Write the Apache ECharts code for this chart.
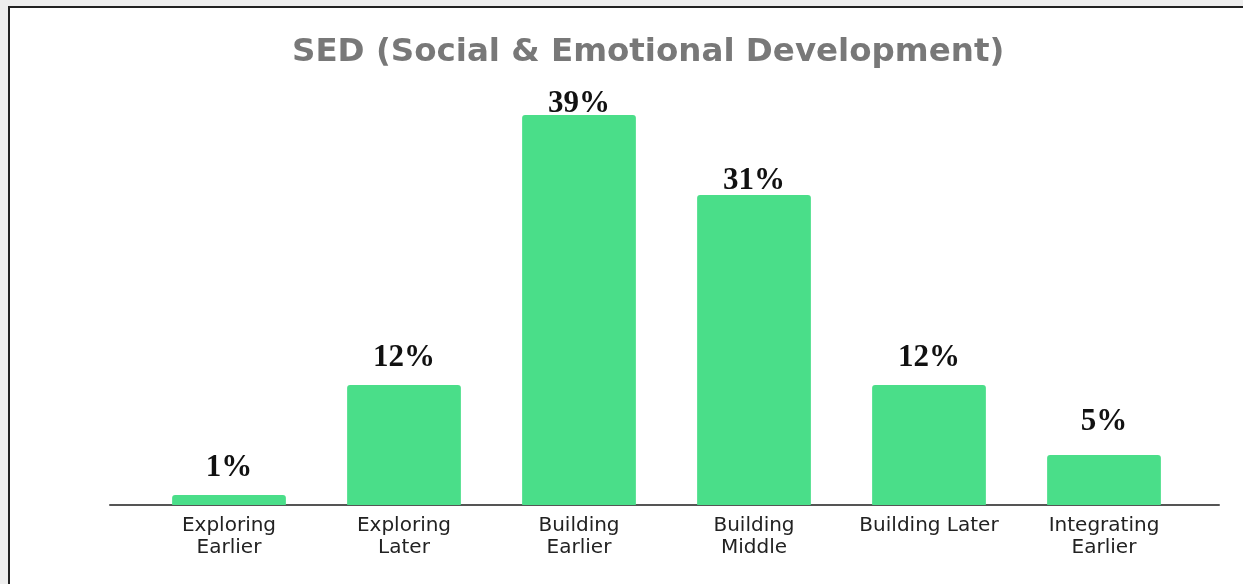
<!DOCTYPE html>
<html>
<head>
<meta charset="utf-8">
<script src="https://cdn.jsdelivr.net/npm/echarts@6/dist/echarts.min.js"></script>
<style>
  html, body { margin: 0; padding: 0; width: 1243px; height: 584px; background: #eeeeee; overflow: hidden; }
  #frame { position: absolute; left: 8px; top: 6px; right: 0; bottom: 0; background: #fff;
           border-left: 2px solid #222; border-top: 2px solid #222; }
  #chart { position: absolute; left: 0; top: 0; width: 1243px; height: 584px; }
</style>
</head>
<body>
<div id="frame"></div>
<div id="chart"></div>
<script>
const titleText = 'SED (Social & Emotional Development)'
const categories = ['Exploring\nEarlier', 'Exploring\nLater', 'Building\nEarlier', 'Building\nMiddle', 'Building Later', 'Integrating\nEarlier']
const percents = [1, 12, 39, 31, 12, 5]
// label distance above each bar (styling only)
const labelGap = [12, 12, -4, -1, 12, 18]

const chart = echarts.init(document.getElementById('chart'), null, { renderer: 'canvas' })

chart.setOption({
  animation: false,
  title: {
    text: titleText,
    left: 287,
    top: 31,
    textStyle: { fontFamily: 'DejaVu Sans', fontWeight: 'bold', fontSize: 32.5, color: '#787878' },
  },
  grid: [
    { left: 141.5, right: 51.5, top: 105, bottom: 79 },
    { left: 110, right: 24, top: 105, bottom: 79 },
  ],
  xAxis: [
    {
      type: 'category',
      gridIndex: 0,
      data: categories,
      axisLine: { show: false },
      axisTick: { show: false },
      axisLabel: { fontFamily: 'DejaVu Sans', fontSize: 20, color: '#222', lineHeight: 22, margin: 10, interval: 0 },
    },
    {
      type: 'category',
      gridIndex: 1,
      data: [''],
      axisLine: { show: true, lineStyle: { color: '#555', width: 2 } },
      axisTick: { show: false },
      axisLabel: { show: false },
    },
  ],
  yAxis: [
    { type: 'value', gridIndex: 0, min: 0, max: 40, show: false, splitLine: { show: false } },
    { type: 'value', gridIndex: 1, min: 0, max: 40, show: false, splitLine: { show: false } },
  ],
  series: [
    {
      type: 'bar',
      xAxisIndex: 0,
      yAxisIndex: 0,
      barWidth: '65%',
      itemStyle: { color: '#4ade89', borderRadius: [3, 3, 0, 0] },
      data: percents.map((v, i) => ({
        value: v,
        label: { distance: labelGap[i] },
      })),
      label: {
        show: true,
        position: 'top',
        formatter: (p) => p.value + '%',
        fontFamily: 'Liberation Serif',
        fontWeight: 'bold',
        fontSize: 31,
        color: '#111',
      },
    },
  ],
})
</script>
</body>
</html>
